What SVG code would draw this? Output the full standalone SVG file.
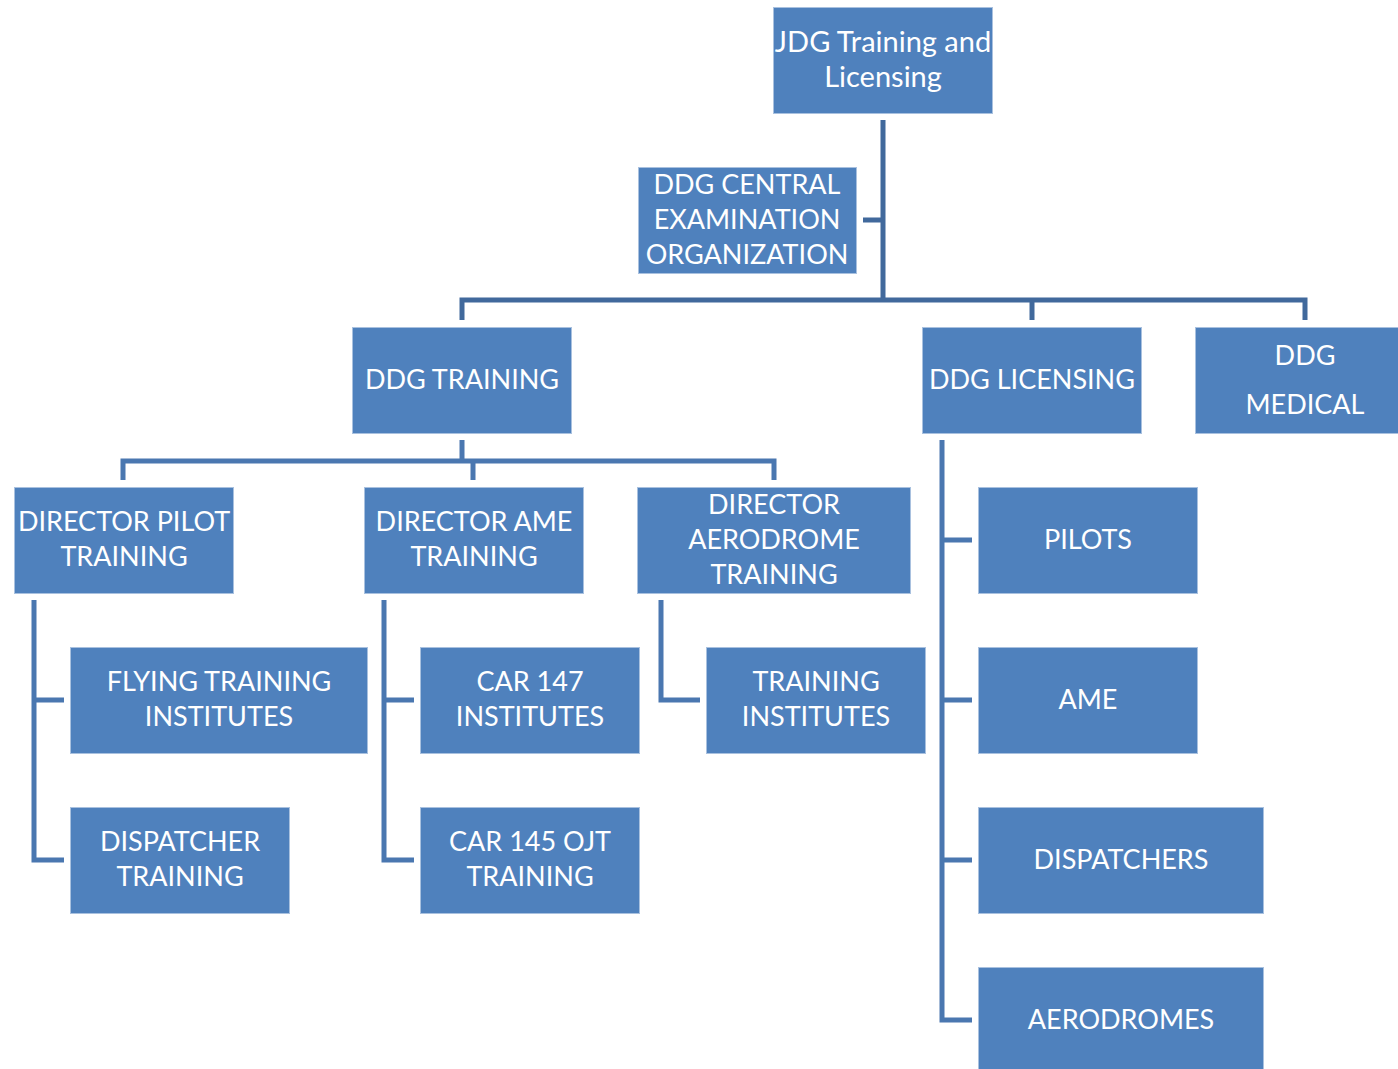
<svg xmlns="http://www.w3.org/2000/svg" width="1398" height="1069" viewBox="0 0 1398 1069">
  <style>
    .box { fill: #4F81BD; stroke: #A9C1DF; stroke-width: 1; }
    .lbl { fill: #FFFFFF; font-family: Lato, "Liberation Sans", sans-serif; font-size: 27px; text-anchor: middle; dominant-baseline: central; }
    .lbl.big { font-size: 29px; }
    .wire-top { fill: none; stroke: #41699C; stroke-width: 5; stroke-linejoin: miter; }
    .wire { fill: none; stroke: #4A77B0; stroke-width: 5; stroke-linejoin: miter; }
  </style>
  <rect width="1398" height="1069" fill="#FFFFFF"/>

  <g id="connectors">
    <path class="wire-top" d="M883 120 V300 M863 220 H883"/>
    <path class="wire-top" d="M462 320 V300 H1305 V320 M1032 300 V320"/>
    <path class="wire" d="M462 440 V461 M123 480 V461 H774 V480 M473 461 V480"/>
    <path class="wire" d="M64 700 H34 V600 M34 700 V860 H64"/>
    <path class="wire" d="M414 700 H384 V600 M384 700 V860 H414"/>
    <path class="wire" d="M661 600 V700 H700"/>
    <path class="wire" d="M942 440 V1020 H972 M942 540 H972 M942 700 H972 M942 860 H972"/>
  </g>

  <g id="jdg">
    <rect class="box" x="773.5" y="7.5" width="219" height="106"/>
    <text class="lbl big" x="883" y="40">JDG Training and</text>
    <text class="lbl big" x="883" y="75">Licensing</text>
  </g>
  <g id="ddg-central">
    <rect class="box" x="638.5" y="167.5" width="218" height="106"/>
    <text class="lbl" x="747" y="183">DDG CENTRAL</text>
    <text class="lbl" x="747" y="218">EXAMINATION</text>
    <text class="lbl" x="747" y="253">ORGANIZATION</text>
  </g>
  <g id="ddg-training">
    <rect class="box" x="352.5" y="327.5" width="219" height="106"/>
    <text class="lbl" x="462" y="378">DDG TRAINING</text>
  </g>
  <g id="ddg-licensing">
    <rect class="box" x="922.5" y="327.5" width="219" height="106"/>
    <text class="lbl" x="1032" y="378">DDG LICENSING</text>
  </g>
  <g id="ddg-medical">
    <rect class="box" x="1195.5" y="327.5" width="204" height="106"/>
    <text class="lbl" x="1305" y="354">DDG</text>
    <text class="lbl" x="1305" y="403">MEDICAL</text>
  </g>
  <g id="dir-pilot">
    <rect class="box" x="14.5" y="487.5" width="219" height="106"/>
    <text class="lbl" x="124" y="520">DIRECTOR PILOT</text>
    <text class="lbl" x="124" y="555">TRAINING</text>
  </g>
  <g id="dir-ame">
    <rect class="box" x="364.5" y="487.5" width="219" height="106"/>
    <text class="lbl" x="474" y="520">DIRECTOR AME</text>
    <text class="lbl" x="474" y="555">TRAINING</text>
  </g>
  <g id="dir-aerodrome">
    <rect class="box" x="637.5" y="487.5" width="273" height="106"/>
    <text class="lbl" x="774" y="503">DIRECTOR</text>
    <text class="lbl" x="774" y="538">AERODROME</text>
    <text class="lbl" x="774" y="573">TRAINING</text>
  </g>
  <g id="flying-training">
    <rect class="box" x="70.5" y="647.5" width="297" height="106"/>
    <text class="lbl" x="219" y="680">FLYING TRAINING</text>
    <text class="lbl" x="219" y="715">INSTITUTES</text>
  </g>
  <g id="dispatcher-training">
    <rect class="box" x="70.5" y="807.5" width="219" height="106"/>
    <text class="lbl" x="180" y="840">DISPATCHER</text>
    <text class="lbl" x="180" y="875">TRAINING</text>
  </g>
  <g id="car147">
    <rect class="box" x="420.5" y="647.5" width="219" height="106"/>
    <text class="lbl" x="530" y="680">CAR 147</text>
    <text class="lbl" x="530" y="715">INSTITUTES</text>
  </g>
  <g id="car145">
    <rect class="box" x="420.5" y="807.5" width="219" height="106"/>
    <text class="lbl" x="530" y="840">CAR 145 OJT</text>
    <text class="lbl" x="530" y="875">TRAINING</text>
  </g>
  <g id="training-institutes">
    <rect class="box" x="706.5" y="647.5" width="219" height="106"/>
    <text class="lbl" x="816" y="680">TRAINING</text>
    <text class="lbl" x="816" y="715">INSTITUTES</text>
  </g>
  <g id="pilots">
    <rect class="box" x="978.5" y="487.5" width="219" height="106"/>
    <text class="lbl" x="1088" y="538">PILOTS</text>
  </g>
  <g id="ame">
    <rect class="box" x="978.5" y="647.5" width="219" height="106"/>
    <text class="lbl" x="1088" y="698">AME</text>
  </g>
  <g id="dispatchers">
    <rect class="box" x="978.5" y="807.5" width="285" height="106"/>
    <text class="lbl" x="1121" y="858">DISPATCHERS</text>
  </g>
  <g id="aerodromes">
    <rect class="box" x="978.5" y="967.5" width="285" height="106"/>
    <text class="lbl" x="1121" y="1018">AERODROMES</text>
  </g>
</svg>
